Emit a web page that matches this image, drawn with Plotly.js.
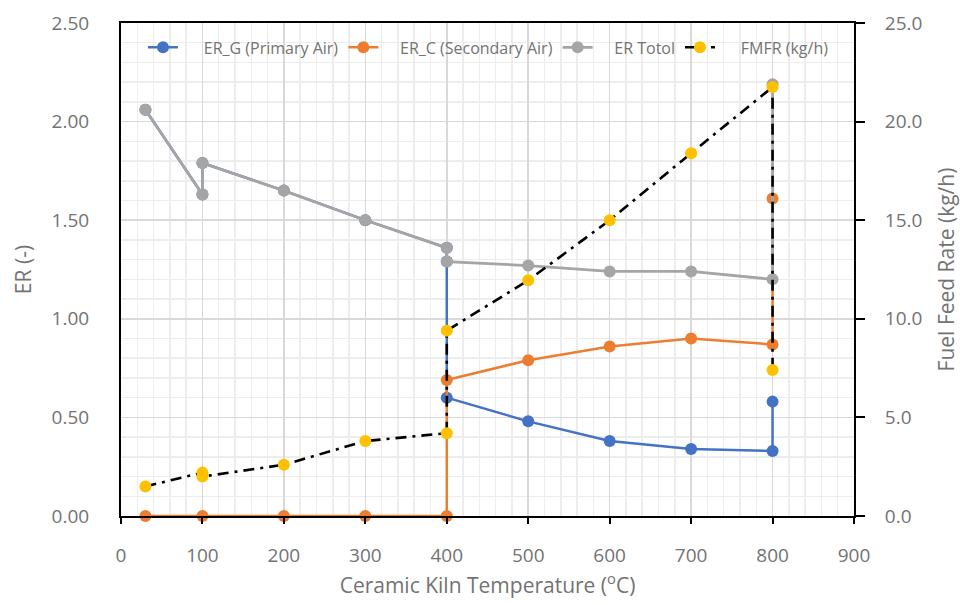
<!DOCTYPE html>
<html><head><meta charset="utf-8">
<script src="https://cdn.plot.ly/plotly-3.0.1.min.js"></script>
<style>html,body{margin:0;padding:0;background:#fff;}#chart{width:968px;height:605px;}</style>
</head><body><div id="chart"></div>
<script>
const erGX = [30, 100, 100, 200, 300, 400, 400, 400, 500, 600, 700, 800, 800];
const erGY = [2.06, 1.63, 1.79, 1.65, 1.50, 1.36, 1.29, 0.60, 0.48, 0.38, 0.34, 0.33, 0.58];
const erCX = [30, 100, 200, 300, 400, 400, 500, 600, 700, 800, 800];
const erCY = [0.00, 0.00, 0.00, 0.00, 0.00, 0.69, 0.79, 0.86, 0.90, 0.87, 1.61];
const erTX = [30, 100, 100, 200, 300, 400, 400, 500, 600, 700, 800, 800];
const erTY = [2.06, 1.63, 1.79, 1.65, 1.50, 1.36, 1.29, 1.27, 1.24, 1.24, 1.20, 2.19];
const fmX = [30, 100, 100, 200, 300, 400, 400, 500, 600, 700, 800, 800];
const fmY = [1.5, 2.2, 2.0, 2.6, 3.8, 4.2, 9.4, 11.95, 15.0, 18.4, 21.75, 7.4];
const seriesNames = ["ER_G (Primary Air)", "ER_C (Secondary Air)", "ER Totol", "FMFR (kg/h)"];

const fnt = "Open Sans, Lato, sans-serif";
const grey = "#737373";
const pad = "\u00a0\u00a0\u00a0\u00a0";
const traces = [
  {x: erGX, y: erGY, name: pad + "\u00a0" + seriesNames[0], mode: "lines+markers", cliponaxis: false,
   line: {color: "#4472C4", width: 2.5}, marker: {color: "#4472C4", size: 12}},
  {x: erCX, y: erCY, name: pad + seriesNames[1], mode: "lines+markers", cliponaxis: false,
   line: {color: "#ED7D31", width: 2.5}, marker: {color: "#ED7D31", size: 12}},
  {x: erTX, y: erTY, name: pad + seriesNames[2], mode: "lines+markers", cliponaxis: false,
   line: {color: "#A5A5A5", width: 2.8}, marker: {color: "#A5A5A5", size: 12}},
  {x: fmX, y: fmY, name: pad + "\u00a0" + seriesNames[3], mode: "lines+markers", yaxis: "y2", cliponaxis: false,
   line: {color: "#000000", width: 2.6, dash: "11px,6px,3px,6px"}, marker: {color: "#FFC000", size: 12}}
];
const layout = {
  width: 968, height: 605,
  margin: {l: 121, r: 114, t: 23, b: 89},
  paper_bgcolor: "#fff", plot_bgcolor: "#fff",
  font: {family: fnt, color: grey, size: 19},
  showlegend: true,
  legend: {orientation: "h", x: 0.03, y: 0.985, xanchor: "left", yanchor: "top",
           bgcolor: "rgba(0,0,0,0)", font: {size: 16, color: grey}, tracegroupgap: 0},
  xaxis: {range: [0, 900], dtick: 100, tick0: 0, showline: true, linecolor: "#000", linewidth: 2,
          mirror: true, ticks: "outside", ticklen: 6, tickcolor: "#000", tickwidth: 2,
          ticklabelstandoff: 15,
          showgrid: true, gridcolor: "#d9d9d9", gridwidth: 1.5, zeroline: false,
          minor: {dtick: 20, showgrid: true, gridcolor: "#ededed", gridwidth: 1.5},
          tickfont: {size: 19, color: grey},
          title: {text: "Ceramic Kiln Temperature (<sup>o</sup>C)", font: {size: 21, color: grey}, standoff: 8}},
  yaxis: {range: [0, 2.5], dtick: 0.5, tick0: 0, tickformat: ".2f", showline: true, linecolor: "#000",
          linewidth: 2, mirror: true, ticks: "outside", ticklen: 26, tickcolor: "rgba(0,0,0,0)", tickwidth: 2,
          showgrid: true, gridcolor: "#d9d9d9", gridwidth: 1.5, zeroline: false,
          minor: {dtick: 0.1, showgrid: true, gridcolor: "#ededed", gridwidth: 1.5},
          tickfont: {size: 19, color: grey},
          title: {text: "ER (-)", font: {size: 21, color: grey}, standoff: 14}},
  yaxis3: {range: [0, 2.5], dtick: 0.5, tick0: 0, overlaying: "y", side: "left", anchor: "x",
           showline: false, showgrid: false, zeroline: false, showticklabels: false,
           ticks: "outside", ticklen: 8, tickcolor: "#000", tickwidth: 2},
  yaxis2: {range: [0, 25], dtick: 5, tick0: 0, tickformat: ".1f", overlaying: "y", side: "right",
           showline: true, linecolor: "#000", linewidth: 2, ticks: "outside", ticklen: 9,
           tickcolor: "#000", tickwidth: 2, showgrid: false, zeroline: false,
           ticklabelstandoff: 16,
           tickfont: {size: 19, color: grey},
           title: {text: "Fuel Feed Rate (kg/h)", font: {size: 21, color: grey}, standoff: 18}}
};
Plotly.newPlot("chart", traces, layout, {displayModeBar: false, staticPlot: true});
</script></body></html>
